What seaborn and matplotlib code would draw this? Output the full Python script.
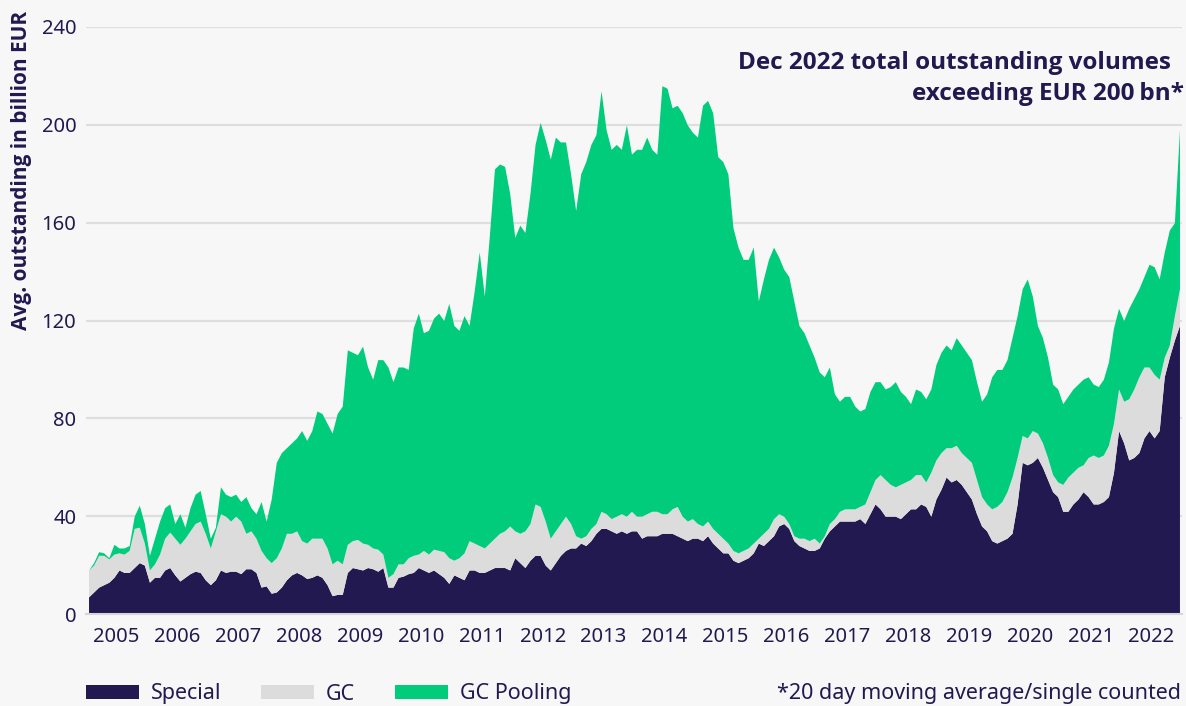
import numpy as np
import pandas as pd
import matplotlib
matplotlib.use("Agg")
import matplotlib.pyplot as plt
import seaborn as sns
from matplotlib.patches import Patch

# ---------------- data (monthly averages, billion EUR) ----------------
years = list(range(2005, 2023))
year_labels = [str(y) for y in years]

special = [
    7, 9, 11, 12, 13, 15, 18, 17, 17, 19, 21, 20,            # 2005
    13, 15, 15, 18, 19, 16, 13.5, 15, 16.5, 17.5, 17, 14,     # 2006
    12, 14, 18, 17, 17.5, 17.5, 16.5, 18.5, 18.5, 17, 11, 11.5,  # 2007
    8.5, 9, 11, 14, 16, 17, 16, 14.5, 15, 16, 15, 12,         # 2008
    7.5, 8, 8, 17, 19, 18.5, 18, 19, 18.5, 17.5, 19, 11,      # 2009
    11, 15, 15.5, 16.5, 17, 19, 18, 17, 18, 16.5, 15, 12.5,   # 2010
    16, 15, 14, 18, 18, 17, 17, 18, 19, 19, 19, 18,           # 2011
    23, 21, 19, 22, 24, 24, 20, 18, 21, 24, 26, 27,           # 2012
    27, 29, 28, 30, 33, 35, 35, 34, 33, 34, 33, 34,           # 2013
    34, 31, 32, 32, 32, 33, 33, 33, 32, 31, 30, 31,           # 2014
    31, 30, 32, 29, 27, 25, 25, 22, 21, 22, 23, 25,           # 2015
    29, 28, 30, 32, 36, 37, 35, 30, 28, 27, 26, 26,           # 2016
    27, 31, 34, 36, 38, 38, 38, 38, 39, 37, 41, 45,           # 2017
    43, 40, 40, 40, 39, 41, 43, 43, 45, 44, 40, 47,           # 2018
    51, 56, 54, 55, 53, 50, 47, 41, 36, 34, 30, 29,           # 2019
    30, 31, 33, 45, 62, 61, 62, 64, 60, 55, 50, 48,           # 2020
    42, 42, 45, 47, 50, 48, 45, 45, 46, 48, 58, 75,           # 2021
    70, 63, 64, 66, 72, 75, 72, 75, 97, 105, 112, 118,        # 2022
]

gc = [
    11, 11, 13, 12, 9.5, 9.5, 7, 7.5, 9, 16, 14.5, 9,         # 2005
    5, 5.5, 9.5, 13, 14.5, 15, 15, 16, 17.5, 19.5, 21, 19,    # 2006
    15, 20, 23, 23, 20.5, 22.5, 21.5, 14.5, 15.5, 14, 15, 11.5,  # 2007
    12.5, 14, 16, 19, 17, 17, 14, 14.5, 16, 15, 16, 15,       # 2008
    13, 14, 12.5, 11.5, 11, 12, 11, 9.5, 8.5, 9, 5.5, 4,      # 2009
    5.5, 5.5, 5, 6.5, 7, 5.5, 8, 7.5, 8.5, 9.5, 10.5, 10.5,   # 2010
    6, 8, 11, 12, 11, 11, 10, 11, 12, 14, 15, 18,             # 2011
    11, 12, 15, 15, 21, 20, 18, 13, 13, 13, 14, 10,           # 2012
    5, 2, 4, 5, 4, 7, 6, 5, 7, 7, 7, 8,                       # 2013
    6, 9, 9, 10, 10, 8, 8, 10, 12, 9, 8, 8,                   # 2014
    6, 6, 6, 6, 6, 6, 4, 4, 4, 4, 4, 4,                       # 2015
    2, 5, 5, 7, 5, 3, 2, 2, 3, 4, 4, 5,                       # 2016
    2, 1, 3, 3, 4, 5, 5, 5, 5, 8, 9, 10,                      # 2017
    14, 15, 13, 12, 14, 13, 12, 14, 12, 10, 18, 16,           # 2018
    15, 12, 14, 14, 13, 14, 15, 14, 12, 11, 13, 15,           # 2019
    16, 19, 23, 19, 11, 11, 13, 10, 10, 9, 7, 6,              # 2020
    11, 14, 13, 13, 11, 16, 20, 19, 19, 21, 20, 17,           # 2021
    17, 25, 28, 31, 29, 26, 26, 21, 8, 5, 10, 15,             # 2022
]

gc_pooling = [
    0, 1, 1.5, 1, 0.5, 4, 2, 2.5, 2, 5, 9, 8,                 # 2005
    6, 10.5, 13.5, 12.5, 11.5, 6, 12.5, 4.5, 9.5, 12, 12.5, 8,  # 2006
    4, 1.5, 11, 9, 10, 9, 8, 15, 9.5, 10, 20, 15,             # 2007
    26, 39, 39, 35, 37, 38, 45, 42, 44, 52, 51, 51,           # 2008
    53.5, 60, 64.5, 79.5, 77, 75.5, 80.5, 72.5, 69, 77.5, 79.5, 86,  # 2009
    78.5, 80.5, 80.5, 77, 93, 98.5, 89, 91.5, 94.5, 97, 94.5, 104,   # 2010
    96, 93, 97, 88, 103, 120, 103, 126, 151, 151, 149, 136,   # 2011
    120, 126, 122, 135, 147, 157, 156, 155, 161, 156, 153, 143,  # 2012
    133, 149, 153, 157, 159, 172, 157, 151, 152, 149, 160, 146,  # 2013
    150, 150, 154, 148, 146, 175, 174, 164, 164, 165, 162, 158,  # 2014
    158, 172, 172, 170, 154, 154, 151, 132, 125, 119, 118, 121,  # 2015
    97, 104, 110, 111, 105, 101, 101, 96, 87, 84, 80, 74,     # 2016
    70, 65, 64, 51, 45, 46, 46, 42, 39, 39, 41, 40,           # 2017
    38, 37, 40, 43, 38, 35, 31, 35, 34, 34, 34, 39,           # 2018
    41, 42, 40, 44, 44, 43, 42, 40, 39, 45, 54, 56,           # 2019
    54, 54, 57, 58, 60, 65, 55, 44, 43, 41, 37, 38,           # 2020
    33, 33, 34, 34, 35, 33, 29, 29, 31, 34, 39, 33,           # 2021
    33, 37, 37, 36, 37, 42, 44, 41, 43, 47, 38, 65,           # 2022
]

series_names = ["Special", "GC", "GC Pooling"]
y_ticks = [0, 40, 80, 120, 160, 200, 240]

# ---------------- style ----------------
NAVY = "#21194f"
GREY = "#dcdcdc"
GREEN = "#00cc7c"
BG = "#f7f7f7"
GRID = "#dedede"

sns.set_theme(style="white")
plt.rcParams["font.family"] = ["Noto Sans", "DejaVu Sans"]
BOLD_FAMILY = ["Open Sans", "DejaVu Sans"]

n = len(special)
t = np.array([years[0] + (i + 0.5) / 12 for i in range(n)])
df = pd.DataFrame({"t": t, "Special": special, "GC": gc, "GC Pooling": gc_pooling})

W, H = 1186, 706
fig = plt.figure(figsize=(W / 100, H / 100), dpi=100, facecolor=BG)
ax = fig.add_axes([86 / W, (H - 614) / H, 1096 / W, 587 / H])
ax.set_facecolor(BG)

colors = [NAVY, GREY, GREEN]
ax.stackplot(df["t"], df["Special"], df["GC"], df["GC Pooling"],
             colors=colors, linewidth=0, zorder=2)

ax.set_xlim(years[0], years[-1] + 1)
ax.set_ylim(0, 240)
ax.set_yticks(y_ticks)
ax.yaxis.grid(True, color=GRID, linewidth=1.6, zorder=0)
ax.xaxis.grid(False)
ax.set_axisbelow(True)
ax.tick_params(axis="y", length=0, pad=7, labelsize=14.5, labelcolor=NAVY)

# year separators (major) and centred labels (minor)
ax.set_xticks(list(range(years[0], years[-1] + 2)))
ax.set_xticklabels([])
ax.set_xticks([y + 0.5 for y in years], minor=True)
ax.set_xticklabels(year_labels, minor=True)
ax.tick_params(axis="x", which="major", length=25, width=1.3, color="#d6d6d6", direction="out")
ax.tick_params(axis="x", which="minor", length=0, pad=9, labelsize=14.5, labelcolor=NAVY)

for s in ["top", "right", "left"]:
    ax.spines[s].set_visible(False)
ax.spines["bottom"].set_color("#d6d6d6")
ax.spines["bottom"].set_linewidth(1.5)

fig.text(22 / W, 1 - 11 / H, "Avg. outstanding in billion EUR", rotation=90,
         ha="center", va="top", fontsize=15, fontweight="bold", color=NAVY,
         family=BOLD_FAMILY)

fig.text(1171 / W, 1 - 63 / H, "Dec 2022 total outstanding volumes",
         ha="right", va="center", fontsize=17.5, fontweight="bold", color=NAVY,
         family=BOLD_FAMILY)
fig.text(1184 / W, 1 - 94 / H, "exceeding EUR 200\u2009bn*",
         ha="right", va="center", fontsize=17.5, fontweight="bold", color=NAVY,
         family=BOLD_FAMILY)

handles = [Patch(facecolor=c, edgecolor="none", label=l) for c, l in zip(colors, series_names)]
leg = fig.legend(handles=handles, loc="center left", bbox_to_anchor=(86 / W, 1 - 694 / H),
                 ncol=3, frameon=False, fontsize=15.5, handlelength=2.47, handleheight=0.67,
                 handletextpad=0.54, columnspacing=1.85, borderaxespad=0, borderpad=0)
for txt in leg.get_texts():
    txt.set_color(NAVY)

fig.text(1181 / W, 1 - 694 / H, "*20 day moving average/single counted",
         ha="right", va="center", fontsize=15.5, color=NAVY)

fig.savefig("out.png", dpi=100, facecolor=BG)
